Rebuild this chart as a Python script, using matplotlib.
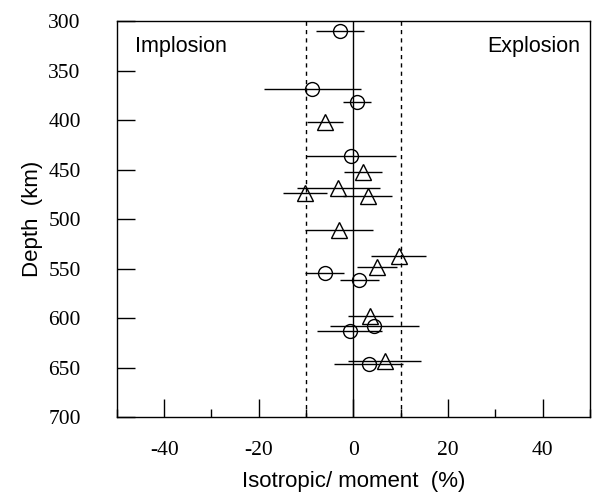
import matplotlib
matplotlib.use("Agg")
import matplotlib.pyplot as plt
from matplotlib.ticker import MultipleLocator

plt.rcParams["axes.unicode_minus"] = False

# circles
circ_depth = [310, 368, 382, 436, 554, 561, 608, 613, 646]
circ_val = [-2.8, -8.7, 0.8, -0.5, -6.1, 1.2, 4.4, -0.8, 3.2]
circ_err = [5.1, 10.2, 2.9, 9.5, 4.2, 4.1, 9.4, 6.9, 7.2]

# triangles
tri_depth = [402, 452, 468, 473, 476, 511, 537, 548, 598, 643]
tri_val = [-6.0, 2.0, -3.2, -10.2, 3.0, -3.0, 9.6, 5.0, 3.6, 6.6]
tri_err = [3.8, 4.0, 8.8, 4.6, 5.2, 7.2, 5.8, 4.2, 4.8, 7.7]

x_ticks = [-40, -20, 0, 20, 40]
y_ticks = [300, 350, 400, 450, 500, 550, 600, 650, 700]

serif = "Liberation Serif"
sans = "Liberation Sans"

fig = plt.figure(figsize=(5.93, 4.95), dpi=100)
ax = fig.add_axes([0.197, 0.157, 0.798, 0.8])

ax.axvline(0, color="black", lw=1.0, zorder=1)
ax.axvline(-10, color="black", lw=1.0, ls=(0, (3, 3)), zorder=1)
ax.axvline(10, color="black", lw=1.0, ls=(0, (3, 3)), zorder=1)

ax.errorbar(circ_val, circ_depth, xerr=circ_err, fmt="o", ms=10, mfc="none",
            mec="black", mew=1.0, ecolor="black", elinewidth=1.0, capsize=0, zorder=3)
ax.errorbar(tri_val, tri_depth, xerr=tri_err, fmt="^", ms=11, mfc="none",
            mec="black", mew=1.0, ecolor="black", elinewidth=1.0, capsize=0, zorder=3)

ax.set_xlim(-50, 50)
ax.set_ylim(700, 300)
ax.set_xticks(x_ticks)
ax.xaxis.set_minor_locator(MultipleLocator(10))
ax.set_yticks(y_ticks)

ax.tick_params(axis="both", which="major", direction="in", length=13, width=1.0,
               top=False, right=False)
ax.tick_params(axis="x", which="minor", direction="in", length=6, width=1.0, top=False)
ax.tick_params(axis="y", pad=26)
ax.tick_params(axis="x", pad=17)
for lab in ax.get_xticklabels() + ax.get_yticklabels():
    lab.set_fontfamily(serif)
    lab.set_fontsize(15.5)

for sp in ax.spines.values():
    sp.set_linewidth(1.0)

ax.text(-46.2, 325, "Implosion", fontsize=15.5, fontfamily=sans, va="center", ha="left")
ax.text(47.9, 325, "Explosion", fontsize=15.5, fontfamily=sans, va="center", ha="right")

ax.set_xlabel("Isotropic/ moment  (%)", fontsize=16, fontfamily=sans, labelpad=8)
ax.set_ylabel("Depth  (km)", fontsize=16, fontfamily=sans, labelpad=4)

fig.savefig("out.png", dpi=100)
